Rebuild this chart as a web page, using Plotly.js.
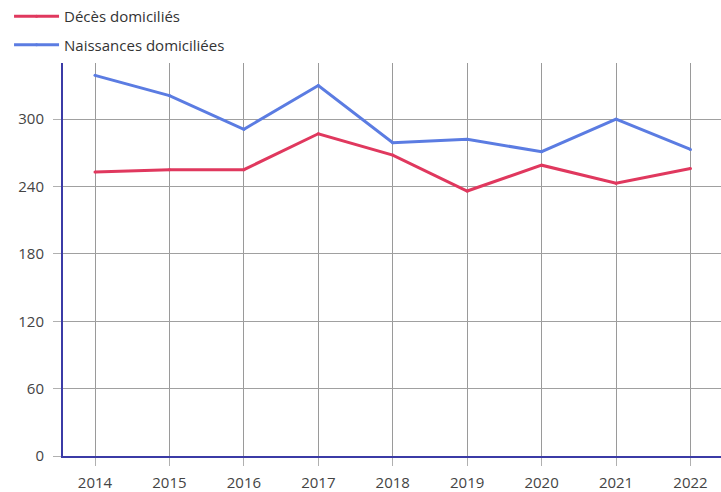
<!DOCTYPE html>
<html><head><meta charset="utf-8">
<script src="https://cdn.plot.ly/plotly-3.0.1.min.js"></script>
<style>body{margin:0;background:#fff}#chart{width:721px;height:492px}</style>
</head><body><div id="chart"></div>
<script>
const years = [2014, 2015, 2016, 2017, 2018, 2019, 2020, 2021, 2022];
const deces = [253, 255, 255, 287, 268, 236, 259, 243, 256];
const naissances = [339, 321, 291, 330, 279, 282, 271, 300, 273];
const yTicks = [0, 60, 120, 180, 240, 300];

const traces = [
  {x: years, y: deces, name: 'Décès domiciliés', type: 'scatter', mode: 'lines+markers',
   legendgroup: 'a', line: {color: '#e0385e', width: 3}, marker: {size: 3, color: '#e0385e'}},
  {x: years, y: naissances, name: 'Naissances domiciliées', type: 'scatter', mode: 'lines+markers',
   legendgroup: 'b', line: {color: '#5b7ce2', width: 3}, marker: {size: 3, color: '#5b7ce2'}}
];
const layout = {
  width: 721, height: 492,
  margin: {l: 63, r: 0, t: 62, b: 36},
  paper_bgcolor: '#fff', plot_bgcolor: '#fff',
  font: {family: '"Open Sans", sans-serif', size: 15, color: '#444'},
  showlegend: true,
  legend: {x: -0.082, xanchor: 'left', y: 1.16, yanchor: 'top', orientation: 'v', itemwidth: 45,
           traceorder: 'grouped', tracegroupgap: 6, font: {size: 15, color: '#333'}, bgcolor: 'rgba(0,0,0,0)'},
  xaxis: {range: [2013.57, 2022.41], tickvals: years, ticktext: years.map(String),
          showgrid: true, gridcolor: '#9a9a9a', gridwidth: 1, zeroline: false,
          showline: true, linecolor: '#3b3ba6', linewidth: 2,
          ticks: 'outside', ticklen: 8, tickcolor: '#b0b0b0', ticklabelstandoff: 4,
          tickfont: {size: 15, color: '#444'}},
  yaxis: {range: [0, 350], tickvals: yTicks, showgrid: true, gridcolor: '#a0a0a0', gridwidth: 1,
          zeroline: false, showline: true, linecolor: '#3b3ba6', linewidth: 2,
          ticks: 'outside', ticklen: 8, tickcolor: '#b0b0b0', ticklabelstandoff: 6,
          tickfont: {size: 15, color: '#444'}}
};
Plotly.newPlot('chart', traces, layout, {displayModeBar: false, staticPlot: true});
</script></body></html>
